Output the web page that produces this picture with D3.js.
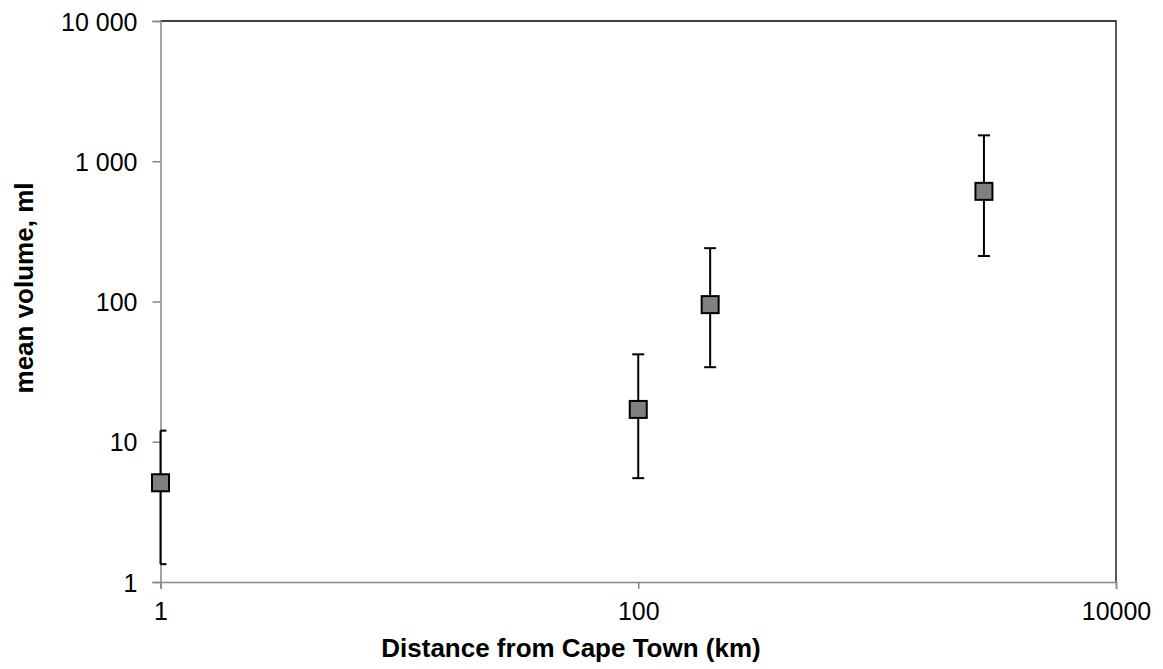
<!DOCTYPE html>
<html>
<head>
<meta charset="utf-8">
<script src="https://cdn.jsdelivr.net/npm/d3@7"></script>
<style>
  body { margin: 0; background: #ffffff; }
  text { font-family: Arial, "Liberation Sans", sans-serif; }
</style>
</head>
<body>
<div id="chart"></div>
<script>
// values
const distances = [1, 100, 200, 2800];
const meanVolume = [5.1, 17, 95, 610];
const upperVolume = [12, 42, 240, 1530];
const lowerVolume = [1.34, 5.5, 34, 211];

const xTicks = [1, 100, 10000];
const xTickLabels = ["1", "100", "10000"];
const yTicks = [1, 10, 100, 1000, 10000];
const yTickLabels = ["1", "10", "100", "1 000", "10 000"];

const width = 1163;
const height = 669;
const margin = { top: 21, right: 47, bottom: 87, left: 160.5 };
const innerWidth = width - margin.left - margin.right;
const innerHeight = height - margin.top - margin.bottom;

const points = distances.map((d, i) => ({
  x: d,
  y: meanVolume[i],
  hi: upperVolume[i],
  lo: lowerVolume[i],
}));

const svg = d3
  .select("#chart")
  .append("svg")
  .attr("width", width)
  .attr("height", height);

const g = svg
  .append("g")
  .attr("transform", `translate(${margin.left},${margin.top})`);

const x = d3.scaleLog().domain([1, 10000]).range([0, innerWidth]);
const y = d3.scaleLog().domain([1, 10000]).range([innerHeight, 0]);

// clip for error bars at the edge (keeps the stem, cuts the left half of caps)
svg
  .append("defs")
  .append("clipPath")
  .attr("id", "plot-clip")
  .append("rect")
  .attr("x", -1.5)
  .attr("width", innerWidth + 1.5)
  .attr("height", innerHeight);

// top and right border
g.append("path")
  .attr("d", `M0,0H${innerWidth}V${innerHeight}`)
  .attr("fill", "none")
  .attr("stroke", "#000")
  .attr("stroke-width", 1.3);

// X axis
const xAxis = g
  .append("g")
  .attr("transform", `translate(0,${innerHeight})`)
  .call(
    d3
      .axisBottom(x)
      .tickValues(xTicks)
      .tickSize(7)
      .tickPadding(13)
      .tickFormat((d, i) => xTickLabels[i])
  );

// Y axis
const yAxis = g.append("g").call(
  d3
    .axisLeft(y)
    .tickValues(yTicks)
    .tickSize(8)
    .tickPadding(15)
    .tickFormat((d, i) => yTickLabels[i])
);

[xAxis, yAxis].forEach((ax) => {
  ax.select(".domain").attr("stroke", "#868686").attr("stroke-width", 1.5);
  ax.selectAll(".tick line").attr("stroke", "#868686").attr("stroke-width", 1.5);
  ax.selectAll(".tick text")
    .attr("font-size", "25px")
    .attr("font-family", "Arial, 'Liberation Sans', sans-serif")
    .attr("fill", "#000");
});
yAxis.selectAll(".tick text").attr("dy", "0.36em");

// error bars
const bars = g.append("g").attr("clip-path", "url(#plot-clip)");
const capHalf = 6;

bars
  .selectAll("line.stem")
  .data(points)
  .enter()
  .append("line")
  .attr("class", "stem")
  .attr("x1", (d) => x(d.x))
  .attr("x2", (d) => x(d.x))
  .attr("y1", (d) => y(d.hi))
  .attr("y2", (d) => y(d.lo))
  .attr("stroke", "#000")
  .attr("stroke-width", 2);

["hi", "lo"].forEach((key) => {
  bars
    .selectAll(`line.cap-${key}`)
    .data(points)
    .enter()
    .append("line")
    .attr("class", `cap-${key}`)
    .attr("x1", (d) => Math.max(x(d.x) - capHalf, 0))
    .attr("x2", (d) => x(d.x) + capHalf)
    .attr("y1", (d) => y(d[key]))
    .attr("y2", (d) => y(d[key]))
    .attr("stroke", "#000")
    .attr("stroke-width", 2);
});

// square markers
const size = 17;
g.selectAll("rect.marker")
  .data(points)
  .enter()
  .append("rect")
  .attr("class", "marker")
  .attr("x", (d) => x(d.x) - size / 2)
  .attr("y", (d) => y(d.y) - size / 2)
  .attr("width", size)
  .attr("height", size)
  .attr("fill", "#808080")
  .attr("stroke", "#000")
  .attr("stroke-width", 2);

// axis titles
svg
  .append("text")
  .attr("x", 571)
  .attr("y", 657)
  .attr("text-anchor", "middle")
  .attr("font-size", "26px")
  .attr("font-weight", "bold")
  .attr("fill", "#000")
  .text("Distance from Cape Town (km)");

svg
  .append("text")
  .attr("transform", "translate(33,288) rotate(-90)")
  .attr("text-anchor", "middle")
  .attr("font-size", "26px")
  .attr("font-weight", "bold")
  .attr("fill", "#000")
  .text("mean volume, ml");
</script>
</body>
</html>
